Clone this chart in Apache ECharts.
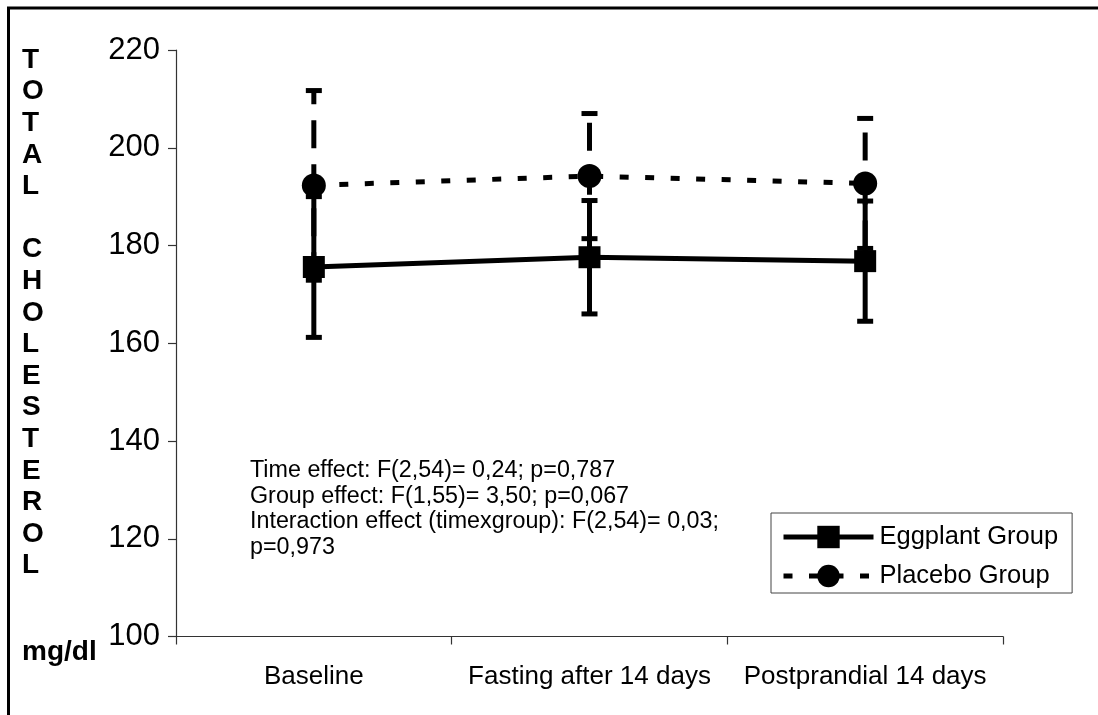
<!DOCTYPE html>
<html>
<head>
<meta charset="utf-8">
<script src="https://cdn.jsdelivr.net/npm/echarts@6/dist/echarts.min.js"></script>
<style>html,body{margin:0;padding:0;background:#fff;}#chart{width:1098px;height:715px;}</style>
</head>
<body>
<div id="chart"></div>
<script>
const categories = ['Baseline', 'Fasting after 14 days', 'Postprandial 14 days'];
const eggplantMean = [175.6, 177.6, 176.8];
const eggplantSD = [14.4, 11.6, 12.3];
const placeboMean = [192.3, 194.2, 192.7];
const placeboSD = [19.4, 12.8, 13.3];
const yMin = 100, yMax = 220, yStep = 20;
const yTitleLetters = ['T','O','T','A','L','','C','H','O','L','E','S','T','E','R','O','L'];
const unitLabel = 'mg/dl';
const statsLines = [
  'Time effect: F(2,54)= 0,24; p=0,787',
  'Group effect: F(1,55)= 3,50; p=0,067',
  'Interaction effect (timexgroup): F(2,54)= 0,03;',
  'p=0,973'
];
const seriesNames = ['Eggplant Group', 'Placebo Group'];

const FONT = 'Liberation Sans, Arial, sans-serif';
const chart = echarts.init(document.getElementById('chart'), null, {renderer: 'canvas'});

function errData(means, sds) {
  return means.map((m, i) => [i, m, m + sds[i], m - sds[i]]);
}

function errRender(dashed) {
  return function (params, api) {
    const hi = api.coord([api.value(0), api.value(2)]);
    const lo = api.coord([api.value(0), api.value(3)]);
    const capW = 8;
    const children = [
      {type: 'line', shape: {x1: lo[0], y1: lo[1], x2: hi[0], y2: hi[1]},
       style: {stroke: '#000', lineWidth: 5, lineDash: dashed ? [28, 16] : null, lineCap: 'butt'}},
      {type: 'line', shape: {x1: hi[0] - capW, y1: hi[1], x2: hi[0] + capW, y2: hi[1]},
       style: {stroke: '#000', lineWidth: 5}},
      {type: 'line', shape: {x1: lo[0] - capW, y1: lo[1], x2: lo[0] + capW, y2: lo[1]},
       style: {stroke: '#000', lineWidth: 5}}
    ];
    return {type: 'group', children: children};
  };
}

const option = {
  backgroundColor: '#fff',
  animation: false,
  textStyle: {fontFamily: FONT, color: '#000'},
  grid: {left: 176, right: 95, top: 50, bottom: 78.5, containLabel: false},
  xAxis: {
    type: 'category',
    data: categories,
    boundaryGap: true,
    axisLine: {show: true, lineStyle: {color: '#333', width: 1.2}},
    axisTick: {show: true, length: 8, alignWithLabel: false, lineStyle: {color: '#333', width: 1.2}},
    axisLabel: {color: '#000', fontSize: 26, fontFamily: FONT, margin: 27, interval: 0},
    splitLine: {show: false}
  },
  yAxis: {
    type: 'value',
    min: yMin, max: yMax, interval: yStep,
    axisLine: {show: true, lineStyle: {color: '#333', width: 1.2}},
    axisTick: {show: true, length: 8, lineStyle: {color: '#333', width: 1.2}},
    axisLabel: {color: '#000', fontSize: 31, fontFamily: FONT, margin: 16},
    splitLine: {show: false}
  },
  legend: {
    orient: 'vertical',
    left: 771, top: 513,
    padding: [11, 14, 4, 10],
    borderColor: '#444', borderWidth: 1,
    backgroundColor: '#fff',
    itemWidth: 90, itemHeight: 28, itemGap: 13,
    lineStyle: {width: 5},
    textStyle: {fontSize: 25.5, color: '#000', fontFamily: FONT, padding: [0, 0, 0, 1]},
    data: seriesNames
  },
  graphic: [
    {type: 'polyline', silent: true, shape: {points: [[8.5, 715], [8.5, 8], [1098, 8]]},
     style: {stroke: '#000', lineWidth: 3, fill: null}},
    {type: 'text', left: 22, top: 44.2, silent: true,
     style: {text: yTitleLetters.join('\n'), font: 'bold 28px ' + FONT, lineHeight: 31.6, fill: '#000', align: 'left'}},
    {type: 'text', x: 22, y: 652, silent: true,
     style: {text: unitLabel, font: 'bold 28px ' + FONT, fill: '#000', align: 'left', verticalAlign: 'middle'}},
    {type: 'text', x: 250, y: 458, silent: true,
     style: {text: statsLines.join('\n'), font: '23.3px ' + FONT, lineHeight: 25.5, fill: '#000', align: 'left', verticalAlign: 'top'}}
  ],
  series: [
    {type: 'custom', name: 'eggErr', data: errData(eggplantMean, eggplantSD), renderItem: errRender(false), z: 1, silent: true},
    {type: 'custom', name: 'plaErr', data: errData(placeboMean, placeboSD), renderItem: errRender(true), z: 1, silent: true},
    {type: 'line', name: seriesNames[0], data: eggplantMean, z: 3,
     symbol: 'rect', symbolSize: 22, showAllSymbol: true,
     lineStyle: {color: '#000', width: 5, type: 'solid'},
     itemStyle: {color: '#000', borderWidth: 0}},
    {type: 'line', name: seriesNames[1], data: placeboMean, z: 3,
     symbol: 'circle', symbolSize: 24, showAllSymbol: true,
     lineStyle: {color: '#000', width: 5, type: [9, 16.5]},
     itemStyle: {color: '#000', borderWidth: 0}}
  ]
};
chart.setOption(option);
</script>
</body>
</html>
